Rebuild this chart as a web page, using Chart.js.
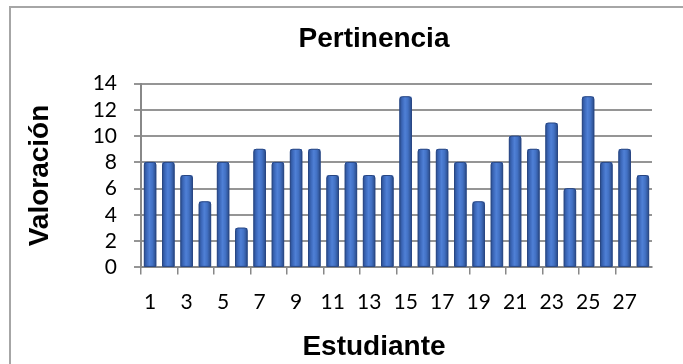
<!DOCTYPE html>
<html>
<head>
<meta charset="utf-8">
<script src="https://cdn.jsdelivr.net/npm/chart.js@4/dist/chart.umd.min.js"></script>
<style>
  html, body { margin: 0; padding: 0; background: #fff; overflow: hidden; width: 683px; height: 364px; }
  #frame {
    position: absolute; left: 9px; top: 6px;
    width: 674px; height: 358px;
    border-left: 2px solid #a6a6a6; border-top: 2px solid #a6a6a6;
    box-sizing: border-box; overflow: hidden;
    background: #fff;
  }
  #c { position: absolute; left: -1px; top: -1px; }
</style>
</head>
<body>
<div id="frame"><canvas id="c" width="728" height="370"></canvas></div>
<script>
// Students 1..28 and their scores
const students = ['1','2','3','4','5','6','7','8','9','10','11','12','13','14',
                  '15','16','17','18','19','20','21','22','23','24','25','26','27','28'];
const scores = [8, 8, 7, 5, 8, 3, 9, 8, 9, 9, 7, 8, 7, 7,
                13, 9, 9, 8, 5, 8, 10, 9, 11, 6, 13, 8, 9, 7];
const yMin = 0, yMax = 14, yStep = 2;

const chartTitle = 'Pertinencia';
const xTitle = 'Estudiante';
const yTitle = 'Valoración';

// Cylinder-like shading painted over each bar from its laid-out geometry
const barShading = {
  id: 'barShading',
  afterDatasetsDraw(chart) {
    const ctx = chart.ctx;
    const meta = chart.getDatasetMeta(0);
    meta.data.forEach(bar => {
      const w = bar.width, x0 = bar.x - w / 2, top = bar.y, base = bar.base;
      const g = ctx.createLinearGradient(x0, 0, x0 + w, 0);
      g.addColorStop(0, '#2d5193');
      g.addColorStop(0.22, '#3d69bb');
      g.addColorStop(0.45, '#4f80d6');
      g.addColorStop(0.7, '#4271c4');
      g.addColorStop(1, '#2b4c8a');
      ctx.save();
      ctx.beginPath();
      const r = 2.5;
      ctx.moveTo(x0, base);
      ctx.lineTo(x0, top + r);
      ctx.quadraticCurveTo(x0, top, x0 + r, top);
      ctx.lineTo(x0 + w - r, top);
      ctx.quadraticCurveTo(x0 + w, top, x0 + w, top + r);
      ctx.lineTo(x0 + w, base);
      ctx.closePath();
      ctx.fillStyle = g;
      ctx.fill();
      ctx.lineWidth = 1;
      ctx.strokeStyle = '#284682';
      ctx.stroke();
      ctx.restore();
    });
  }
};

new Chart(document.getElementById('c'), {
  type: 'bar',
  data: {
    labels: students,
    datasets: [{
      data: scores,
      backgroundColor: '#3f6ec2',
      borderWidth: 0,
      barPercentage: 0.64,
      categoryPercentage: 1.0
    }]
  },
  options: {
    responsive: false,
    animation: false,
    events: [],
    layout: { padding: 0 },
    plugins: {
      legend: { display: false },
      tooltip: { enabled: false },
      title: {
        display: true,
        text: chartTitle,
        color: '#000',
        font: { family: 'Liberation Sans', size: 28, weight: 'bold' },
        padding: { top: 15, bottom: 28 }
      },
      subtitle: {
        display: true,
        position: 'bottom',
        text: xTitle,
        color: '#000',
        font: { family: 'Liberation Sans', size: 28, weight: 'bold' },
        padding: { top: 0, bottom: 13 }
      }
    },
    scales: {
      x: {
        offset: true,
        afterFit(s) { s.height = 63; },
        border: { display: true, color: '#888888', width: 2 },
        grid: {
          offset: true,
          drawOnChartArea: false,
          drawTicks: true,
          tickLength: 7,
          lineWidth: 1.5,
          color: c => (c.index % 2 === 0 ? '#888888' : 'rgba(0,0,0,0)')
        },
        ticks: {
          autoSkip: false,
          maxRotation: 0,
          padding: 15,
          color: '#000',
          font: { family: 'Lato', size: 21 },
          callback: (v, i) => (i % 2 === 0 ? students[i] : '')
        }
      },
      y: {
        min: yMin,
        max: yMax,
        afterFit(s) { s.width = 131; },
        border: { display: true, color: '#888888', width: 2 },
        grid: {
          color: '#959595',
          lineWidth: 2,
          tickLength: 7,
          drawTicks: true
        },
        ticks: {
          stepSize: yStep,
          autoSkip: false,
          padding: 17,
          color: '#000',
          font: { family: 'Lato', size: 21 }
        },
        title: {
          display: true,
          text: yTitle,
          color: '#000',
          font: { family: 'Liberation Sans', size: 28, weight: 'bold' },
          padding: { top: 13, bottom: 0 }
        }
      },
      // empty right-hand margin of the plot
      yRight: {
        type: 'linear',
        position: 'right',
        min: yMin,
        max: yMax,
        afterFit(s) { s.width = 86; },
        border: { display: false },
        grid: { display: false, drawOnChartArea: false },
        ticks: { display: false }
      }
    }
  },
  plugins: [barShading]
});
</script>
</body>
</html>
